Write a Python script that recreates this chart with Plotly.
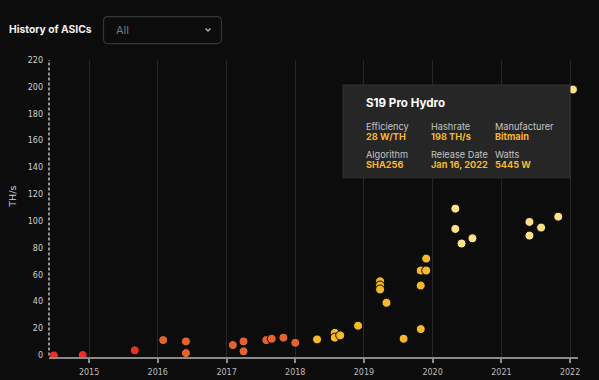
import plotly.graph_objects as go

# ---------------- data ----------------
release_dates = [
    "2014-06-28", "2014-11-28", "2015-09-01",
    "2016-01-30", "2016-05-30", "2016-05-30", "2017-02-03", "2017-04-01", "2017-04-01",
    "2017-07-31", "2017-08-29", "2017-10-30", "2018-01-01",
    "2018-04-27", "2018-07-30", "2018-07-30", "2018-08-28", "2018-12-01",
    "2019-03-28", "2019-03-28", "2019-03-28", "2019-05-01", "2019-07-31",
    "2019-10-30", "2019-10-30", "2019-10-30", "2019-11-28", "2019-11-28",
    "2020-05-01", "2020-05-01", "2020-06-03", "2020-07-31",
    "2021-05-30", "2021-05-30", "2021-07-31", "2021-10-30", "2022-01-16",
]
hashrate_ths = [
    0.0, 0.3, 3.8,
    11.4, 10.4, 1.7, 7.7, 10.4, 3.0,
    11.4, 12.4, 13.2, 9.4,
    11.9, 16.8, 13.2, 14.9, 22.1,
    55.2, 52.0, 49.1, 39.2, 12.4,
    19.6, 52.0, 63.2, 63.2, 72.1,
    109.3, 94.2, 83.3, 87.2,
    99.4, 89.2, 95.2, 103.3, 198.0,
]
generation = (
    ["gen1"] * 3
    + ["gen2"] * 10
    + ["gen3"] * 15
    + ["gen4"] * 9
)
year_ticks = ["2015", "2016", "2017", "2018", "2019", "2020", "2021", "2022"]

tooltip_title = "S19 Pro Hydro"
tooltip_fields = [
    ("Efficiency", "28 W/TH"), ("Hashrate", "198 TH/s"), ("Manufacturer", "Bitmain"),
    ("Algorithm", "SHA256"), ("Release Date", "Jan 16, 2022"), ("Watts", "5445 W"),
]

# ---------------- style ----------------
gen_colors = {"gen1": "#e8302a", "gen2": "#e2642c", "gen3": "#f6b92e", "gen4": "#fde08a"}
BG = "#0c0c0c"
W, H = 599, 380
L, R, T, B = 49, 578, 60, 357.5


def px(x):
    return (x - L) / (R - L)


def py(y):
    return (B - y) / (B - T)


fig = go.Figure()
fig.add_trace(go.Scatter(
    x=release_dates, y=hashrate_ths, mode="markers",
    marker=dict(size=9, color=[gen_colors[g] for g in generation],
                line=dict(color="#050505", width=1)),
    hoverinfo="skip", showlegend=False, cliponaxis=False,
))

shapes = [
    # dashed y axis
    dict(type="line", xref="paper", yref="paper", x0=0, x1=0, y0=0.005, y1=1,
         line=dict(color="#bdbdbd", width=1.5, dash="3px,2px")),
    # tooltip box
    dict(type="rect", xref="paper", yref="paper", x0=px(343), x1=px(570), y0=py(178), y1=py(85),
         fillcolor="#262626", line=dict(color="#333333", width=1), layer="above"),
    # dropdown box
    dict(type="path", xref="paper", yref="paper",
         path=(f"M {px(108)},{py(16.5)} L {px(217)},{py(16.5)} Q {px(221.5)},{py(16.5)} {px(221.5)},{py(21)} "
               f"L {px(221.5)},{py(39)} Q {px(221.5)},{py(43.5)} {px(217)},{py(43.5)} "
               f"L {px(108)},{py(43.5)} Q {px(103.5)},{py(43.5)} {px(103.5)},{py(39)} "
               f"L {px(103.5)},{py(21)} Q {px(103.5)},{py(16.5)} {px(108)},{py(16.5)} Z"),
         fillcolor=BG, line=dict(color="#353535", width=1.2)),
    # chevron
    dict(type="path", xref="paper", yref="paper",
         path=f"M {px(205.5)},{py(28.5)} L {px(208)},{py(31)} L {px(210.5)},{py(28.5)}",
         line=dict(color="#b0b0b0", width=1.5)),
]

ann = [
    dict(text="<b>History of ASICs</b>", x=px(7), y=py(29.5), xanchor="left", yanchor="middle",
         font=dict(family="Inter", size=10.3, color="#f0f0f0")),
    dict(text="All", x=px(114), y=py(30), xanchor="left", yanchor="middle",
         font=dict(family="Inter", size=11, color="#7a7a7a")),
    dict(text="TH/s", x=px(13), y=py(197), textangle=-90, xanchor="center", yanchor="middle",
         font=dict(family="DejaVu Sans", size=9.5, color="#cfcfcf")),
    dict(text=f"<b>{tooltip_title}</b>", x=px(364), y=py(103), xanchor="left", yanchor="middle",
         font=dict(family="Inter", size=11.6, color="#ffffff")),
]
col_x = [364, 428.5, 492.5]
row_y = [(126.5, 136.5), (154.5, 164.5)]
for i, (lab, val) in enumerate(tooltip_fields):
    cx = col_x[i % 3]
    ly, vy = row_y[i // 3]
    ann.append(dict(text=lab, x=px(cx), y=py(ly), xanchor="left", yanchor="middle",
                    font=dict(family="Inter", size=9.2, color="#c4c4c4")))
    ann.append(dict(text=f"<b>{val}</b>", x=px(cx), y=py(vy), xanchor="left", yanchor="middle",
                    font=dict(family="Inter", size=9.2, color="#f5b82e")))
for a in ann:
    a.update(xref="paper", yref="paper", showarrow=False)

fig.update_layout(
    width=W, height=H, autosize=False,
    margin=dict(l=L, r=W - R, t=T, b=H - B, pad=0, autoexpand=False),
    paper_bgcolor=BG, plot_bgcolor=BG,
    shapes=shapes, annotations=ann,
    xaxis=dict(
        type="date", range=["2014-06-02", "2022-02-12"],
        tickvals=[f"{y}-01-01" for y in year_ticks], ticktext=year_ticks,
        showgrid=True, gridcolor="#262626", gridwidth=1,
        showline=True, linecolor="#8a8a8a", linewidth=2,
        ticks="outside", ticklen=4, tickcolor="#8a8a8a", tickwidth=1.5,
        tickfont=dict(family="DejaVu Sans", size=8, color="#bdbdbd"),
        ticklabelstandoff=2, automargin=False,
        zeroline=False, fixedrange=True,
    ),
    yaxis=dict(
        range=[-1.2, 220], tickvals=list(range(0, 221, 20)),
        showgrid=False, zeroline=False, showline=False, ticks="",
        tickfont=dict(family="DejaVu Sans", size=8, color="#d0d0d0"),
        ticklabelstandoff=5, automargin=False, fixedrange=True,
    ),
    hovermode=False,
)

fig.write_html(
    "out.html",
    config={"displayModeBar": False},
    post_script="document.body.style.margin='0';document.body.style.background='#0c0c0c';",
)
